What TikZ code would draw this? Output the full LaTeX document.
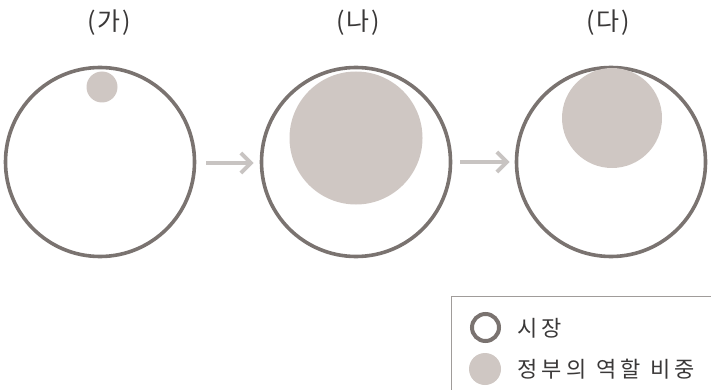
\documentclass[tikz,border=0pt]{standalone}
\usepackage{fontspec}
\setmainfont{Noto Sans CJK KR}
\usetikzlibrary{arrows.meta}
\definecolor{ringc}{HTML}{7A7370}
\definecolor{fillc}{HTML}{CFC7C3}
\definecolor{arrc}{HTML}{C8C4C2}
\definecolor{txtc}{HTML}{3A3838}
\definecolor{boxc}{HTML}{A09C9A}
\tikzset{
  market/.style={circle, draw=ringc, line width=3.6pt, minimum size=189pt, inner sep=0pt},
  gov/.style={circle, fill=fillc, inner sep=0pt},
  flow/.style={draw=arrc, line width=4pt, -{Straight Barb[length=10pt,width=20pt]}},
  title/.style={font=\fontsize{25}{28}\selectfont\addfontfeature{LetterSpace=8}, text=txtc},
  legtext/.style={font=\fontsize{22}{24}\selectfont\addfontfeature{LetterSpace=20}, text=txtc, anchor=west, inner sep=0pt},
}
\begin{document}
\begin{tikzpicture}[x=1pt,y=-1pt]
\useasboundingbox (0,0) rectangle (711,390);
\clip (0,0) rectangle (711,390);
% titles
\node[title] (t1) at (109,23) {(가)};
\node[title] (t2) at (358,23) {(나)};
\node[title] (t3) at (608,23) {(다)};
% circles
\node[market] (m1) at (100,162) {};
\node[market] (m2) at (356,162) {};
\node[market] (m3) at (611,162) {};
\node[gov, minimum size=31pt] (g1) at (102,87) {};
\node[gov, minimum size=133pt] (g2) at (356,138) {};
\node[gov, minimum size=100pt] (g3) at (612,118) {};
% arrows
\draw[flow] ([xshift=10pt,yshift=-1pt]m1.east) -- ([xshift=-6pt,yshift=-1pt]m2.west);
\draw[flow] ([xshift=8pt]m2.east) -- ([xshift=-5pt]m3.west);
% legend
\node[draw=boxc, line width=1.2pt, anchor=north west, minimum width=270pt, minimum height=110pt] (box) at (451,296) {};
\node[circle, draw=ringc, line width=4pt, minimum size=27pt, inner sep=0pt] (lr) at (485.5,327.5) {};
\node[circle, fill=fillc, minimum size=32pt, inner sep=0pt] (lf) at (485,369) {};
\node[legtext] (l1) at (517,328) {시장};
\node[legtext] (l2) at (517,369) {정부의 역할 비중};
\end{tikzpicture}
\end{document}
